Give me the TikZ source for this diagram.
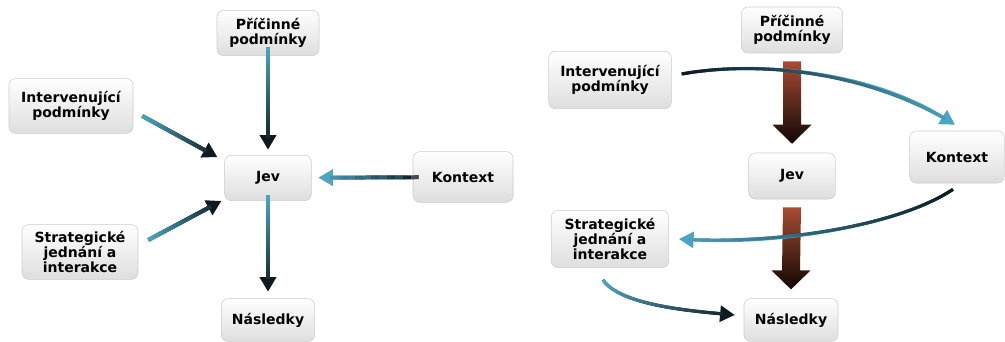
\documentclass[tikz,border=0pt]{standalone}
\usepackage{fontspec}
\setmainfont{DejaVu Sans}
\usepackage{xcolor}
\usepackage{tikz}
\usetikzlibrary{positioning}
\usetikzlibrary{calc}
\usetikzlibrary{arrows.meta}
\usetikzlibrary{decorations.markings}

\definecolor{tealflow}{RGB}{76,166,194}
\definecolor{darkflow}{RGB}{14,26,31}
\definecolor{rusttop}{RGB}{168,76,50}
\definecolor{rustbot}{RGB}{16,6,4}

\begin{document}
\begin{tikzpicture}[x=0.75pt, y=-0.75pt,
  box/.style={rectangle, rounded corners=5pt, draw=black!20, top color=white, bottom color=black!13, text=black, align=center, inner sep=1pt, font=\bfseries\fontsize{10.5}{11.5}\selectfont},
  flow/.style n args={3}{draw=#2, line width=#3, -{Triangle[length=11pt,width=12pt]},
    postaction={decorate, decoration={markings, mark=between positions 0 and 1 step 0.8pt with {
      \pgfmathtruncatemacro\keepseg{(\pgfdecoratedpathlength-\pgfkeysvalueof{/pgf/decoration/mark info/distance from start})>10}
      \pgfmathtruncatemacro\mixpct{(\pgfkeysvalueof{/pgf/decoration/mark info/distance from start}/\pgfdecoratedpathlength)*100}
      \ifnum\keepseg=1 \draw[-, line width=#3, draw=#2!\mixpct!#1] (0,0) -- (1.3pt,0);\fi}}}},
  blockarrow/.style={top color=rusttop, bottom color=rustbot, draw=none}]
\useasboundingbox (0,0) rectangle (1005,342);

% left: everything points to the phenomenon
\node[box, minimum width=76.5pt, minimum height=34pt] (lp) at (268,33) {Příčinné\\podmínky};
\node[box, minimum width=93pt, minimum height=41pt] (li) at (71,106) {Intervenující\\podmínky};
\node[box, minimum width=65pt, minimum height=34pt] (lj) at (268,178) {Jev};
\node[box, minimum width=75pt, minimum height=38pt] (lk) at (463,177) {Kontext};
\node[box, minimum width=87pt, minimum height=41pt] (ls) at (80,252) {Strategické\\jednání a\\interakce};
\node[box, minimum width=70pt, minimum height=32pt] (ln) at (268,320) {Následky};

\draw[flow={tealflow}{darkflow}{3pt}, shorten <=7pt, shorten >=4pt] (lp) -- (lj);
\draw[flow={tealflow}{darkflow}{3pt}] ($(li.east)+(9,10)$) -- ($(lj.north west)+(-7,2)$);
\draw[flow={tealflow}{darkflow}{3pt}] ($(ls.east)+(10,-12)$) -- ($(lj.south west)+(-3,0)$);
\draw[flow={darkflow}{tealflow}{3pt}, shorten <=4.5pt, shorten >=5pt] (lk) -- (lj);
\draw[flow={tealflow}{darkflow}{3pt}, shorten <=4.5pt, shorten >=5pt] (lj) -- (ln);

% right: the chain with feedback
\node[box, minimum width=76pt, minimum height=34.5pt] (rp) at (792,30) {Příčinné\\podmínky};
\node[box, minimum width=92pt, minimum height=43pt] (ri) at (610,80) {Intervenující\\podmínky};
\node[box, minimum width=65pt, minimum height=34.5pt] (rj) at (792,176) {Jev};
\node[box, minimum width=71pt, minimum height=39pt] (rk) at (957,157) {Kontext};
\node[box, minimum width=88pt, minimum height=43pt] (rs) at (610,239) {Strategické\\jednání a\\interakce};
\node[box, minimum width=70.5pt, minimum height=32pt] (rn) at (791,320) {Následky};

\foreach \a/\b in {rp/rj, rj/rn}
  \shade[blockarrow] ($(\a.south)+(-9,8)$) -- ($(\a.south)+(9,8)$) -- ($(\b.north)+(9,-28)$)
    -- ($(\b.north)+(19.5,-28)$) -- ($(\b.north)+(0,-9)$) -- ($(\b.north)+(-19.5,-28)$)
    -- ($(\b.north)+(-9,-28)$) -- cycle;

\draw[flow={darkflow}{tealflow}{2.3pt}] ($(ri.east)+(10,-6)$) .. controls (760,60) and (870,72) .. ($(rk.north)+(-2,-6)$);
\draw[flow={darkflow}{tealflow}{2.3pt}] ($(rk.south)+(-4,6)$) .. controls (900,225) and (780,245) .. ($(rs.east)+(10,0)$);
\draw[flow={tealflow}{darkflow}{2.3pt}] ($(rs.south)+(-7,12)$) .. controls (620,305) and (690,311) .. ($(rn.west)+(-9,-5)$);
\end{tikzpicture}
\end{document}
